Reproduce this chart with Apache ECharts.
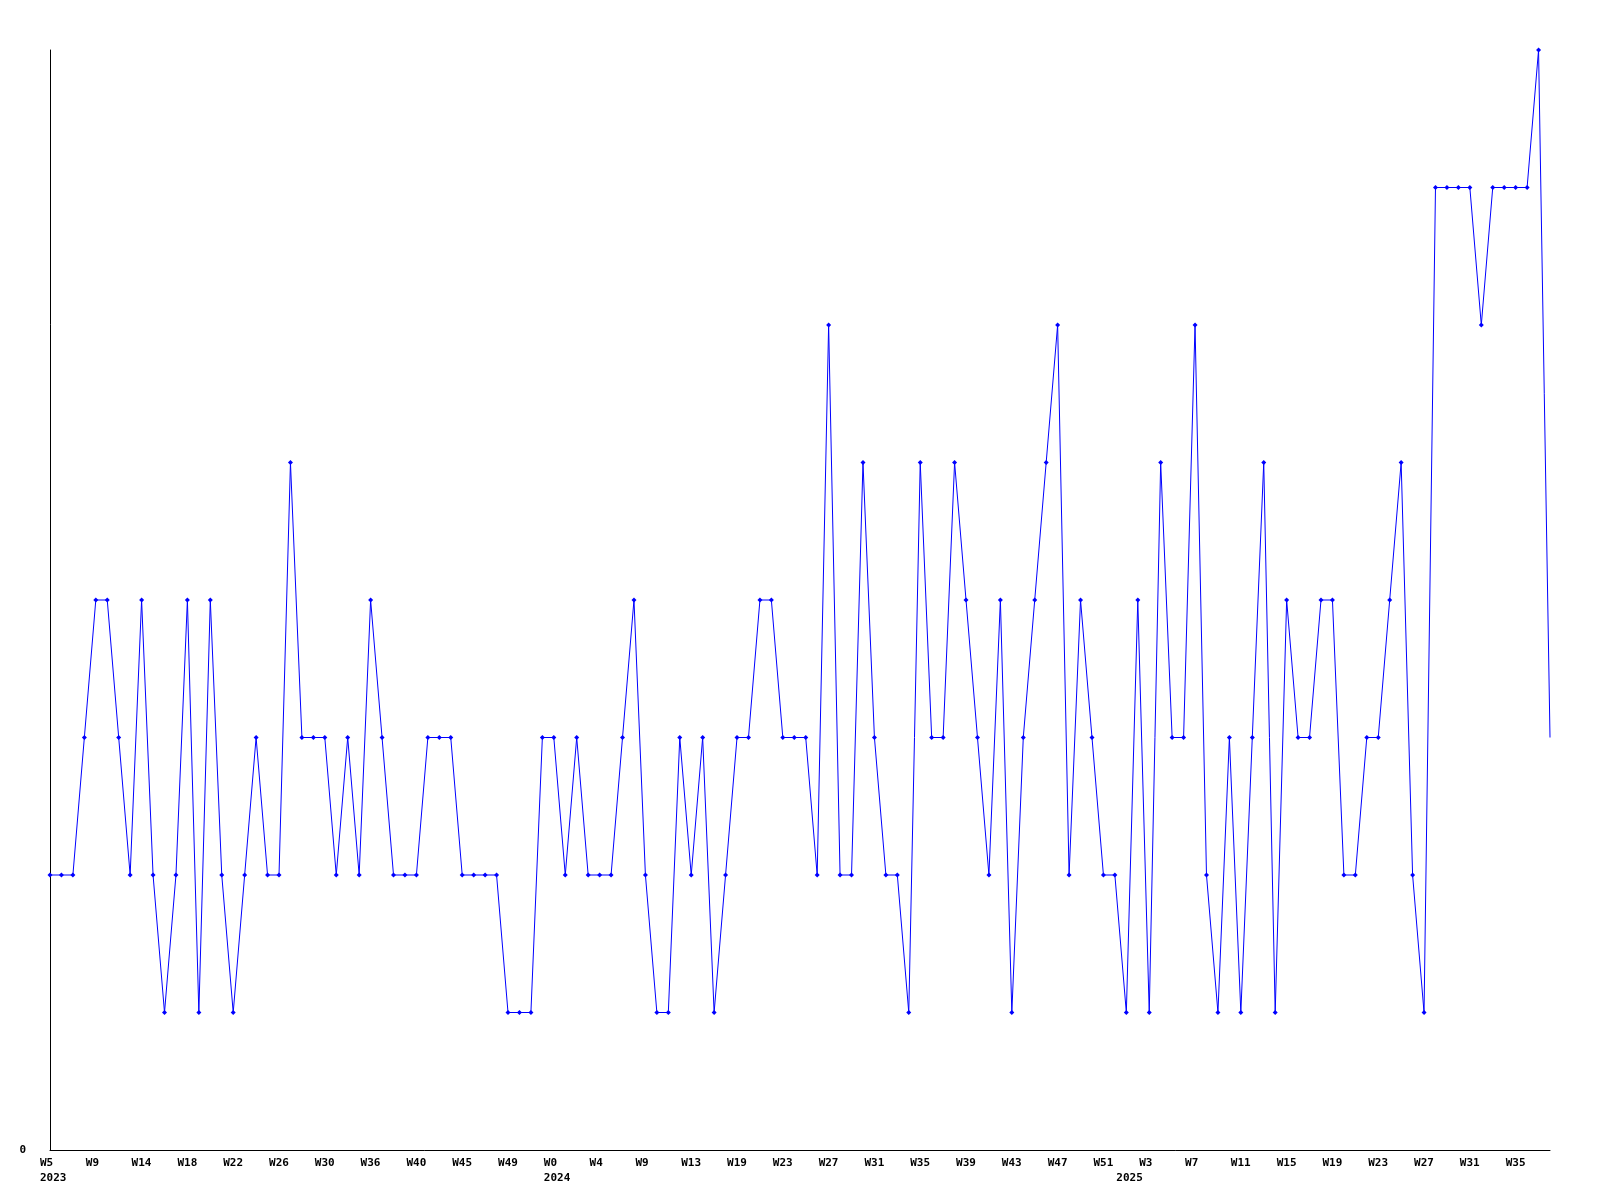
<!DOCTYPE html>
<html>
<head>
<meta charset="utf-8">
<title>Weekly count</title>
<script src="https://cdn.jsdelivr.net/npm/echarts@6/dist/echarts.min.js"></script>
<style>
  html, body { margin: 0; padding: 0; background: #fff; }
  #chart { width: 1600px; height: 1200px; }
</style>
</head>
<body>
<div id="chart"></div>
<script>
// year of each category
const years = [
  2023, 2023, 2023, 2023, 2023, 2023, 2023, 2023, 2023, 2023, 2023, 2023,
  2023, 2023, 2023, 2023, 2023, 2023, 2023, 2023, 2023, 2023, 2023, 2023,
  2023, 2023, 2023, 2023, 2023, 2023, 2023, 2023, 2023, 2023, 2023, 2023,
  2023, 2023, 2023, 2023, 2023, 2023, 2023, 2023,
  2024, 2024, 2024, 2024, 2024, 2024, 2024, 2024, 2024, 2024, 2024, 2024,
  2024, 2024, 2024, 2024, 2024, 2024, 2024, 2024, 2024, 2024, 2024, 2024,
  2024, 2024, 2024, 2024, 2024, 2024, 2024, 2024, 2024, 2024, 2024, 2024,
  2024, 2024, 2024, 2024, 2024, 2024, 2024, 2024, 2024, 2024, 2024, 2024,
  2024, 2024,
  2025, 2025, 2025, 2025, 2025, 2025, 2025, 2025, 2025, 2025, 2025, 2025,
  2025, 2025, 2025, 2025, 2025, 2025, 2025, 2025, 2025, 2025, 2025, 2025,
  2025, 2025, 2025, 2025, 2025, 2025, 2025, 2025, 2025, 2025, 2025, 2025,
  2025, 2025
];

// week label of each category
const weeks = [
  "W5", "W6", "W7", "W8", "W9", "W10", "W11", "W13", "W14", "W15", "W16", "W17",
  "W18", "W19", "W20", "W21", "W22", "W23", "W24", "W25", "W26", "W27", "W28", "W29",
  "W30", "W31", "W33", "W35", "W36", "W37", "W38", "W39", "W40", "W41", "W43", "W44",
  "W45", "W46", "W47", "W48", "W49", "W50", "W51", "W52",
  "W0", "W1", "W2", "W3", "W4", "W5", "W7", "W8", "W9", "W10", "W11", "W12",
  "W13", "W14", "W16", "W18", "W19", "W20", "W21", "W22", "W23", "W24", "W25", "W26",
  "W27", "W28", "W29", "W30", "W31", "W32", "W33", "W34", "W35", "W36", "W37", "W38",
  "W39", "W40", "W41", "W42", "W43", "W44", "W45", "W46", "W47", "W48", "W49", "W50",
  "W51", "W52",
  "W1", "W2", "W3", "W4", "W5", "W6", "W7", "W8", "W9", "W10", "W11", "W12",
  "W13", "W14", "W15", "W16", "W17", "W18", "W19", "W20", "W21", "W22", "W23", "W24",
  "W25", "W26", "W27", "W28", "W29", "W30", "W31", "W32", "W33", "W34", "W35", "W36",
  "W37", "W38"
];

const counts = [
  2, 2, 2, 3, 4, 4, 3, 2, 4, 2, 1, 2,
  4, 1, 4, 2, 1, 2, 3, 2, 2, 5, 3, 3,
  3, 2, 3, 2, 4, 3, 2, 2, 2, 3, 3, 3,
  2, 2, 2, 2, 1, 1, 1, 3, 3, 2, 3, 2,
  2, 2, 3, 4, 2, 1, 1, 3, 2, 3, 1, 2,
  3, 3, 4, 4, 3, 3, 3, 2, 6, 2, 2, 5,
  3, 2, 2, 1, 5, 3, 3, 5, 4, 3, 2, 4,
  1, 3, 4, 5, 6, 2, 4, 3, 2, 2, 1, 4,
  1, 5, 3, 3, 6, 2, 1, 3, 1, 3, 5, 1,
  4, 3, 3, 4, 4, 2, 2, 3, 3, 4, 5, 2,
  1, 7, 7, 7, 7, 6, 7, 7, 7, 7, 8, 3
];

const yTicks = [0];

let myChart = echarts.init(document.getElementById("chart"));

const labelFont = "'DejaVu Sans Mono', monospace";

// first category of each year gets the year printed under it
const isYearStart = (i) => i === 0 || years[i] !== years[i - 1];

// last point is drawn without a marker
const seriesData = counts.map((v, i) =>
  i === counts.length - 1 ? { value: v, symbol: "none" } : v
);

const option = {
  animation: false,
  backgroundColor: "#fff",
  grid: {
    left: 50,
    right: 50,
    top: 50,
    bottom: 50,
    containLabel: false,
  },
  xAxis: {
    type: "category",
    data: weeks,
    boundaryGap: false,
    axisLine: {
      lineStyle: { color: "#000", width: 1 },
    },
    axisTick: { show: false },
    splitLine: { show: false },
    axisLabel: {
      interval: (idx) => idx % 4 === 0 || isYearStart(idx),
      margin: 6,
      align: "center",
      color: "#000",
      fontFamily: labelFont,
      fontWeight: "bold",
      fontSize: 11,
      lineHeight: 15,
      formatter: (value, idx) => {
        let s = "{a|" + (idx % 4 === 0 ? value : " ") + "}";
        if (isYearStart(idx)) {
          s += "\n{a|" + years[idx] + "}";
        }
        return s;
      },
      rich: {
        a: {
          width: 20,
          align: "left",
          color: "#000",
          fontFamily: labelFont,
          fontWeight: "bold",
          fontSize: 11,
          lineHeight: 15,
        },
      },
    },
  },
  yAxis: {
    type: "value",
    min: 0,
    max: 8,
    interval: 8,
    axisLine: {
      show: true,
      lineStyle: { color: "#000", width: 1 },
    },
    axisTick: { show: false },
    splitLine: { show: false },
    axisLabel: {
      margin: 24,
      color: "#000",
      fontFamily: labelFont,
      fontWeight: "bold",
      fontSize: 11,
      formatter: (v) => (yTicks.indexOf(v) >= 0 ? String(v) : ""),
    },
  },
  series: [
    {
      type: "line",
      data: seriesData,
      symbol: "diamond",
      symbolSize: 5,
      showAllSymbol: true,
      lineStyle: { color: "#0000ff", width: 1 },
      itemStyle: { color: "#0000ff" },
    },
  ],
};

myChart.setOption(option);
</script>
</body>
</html>
